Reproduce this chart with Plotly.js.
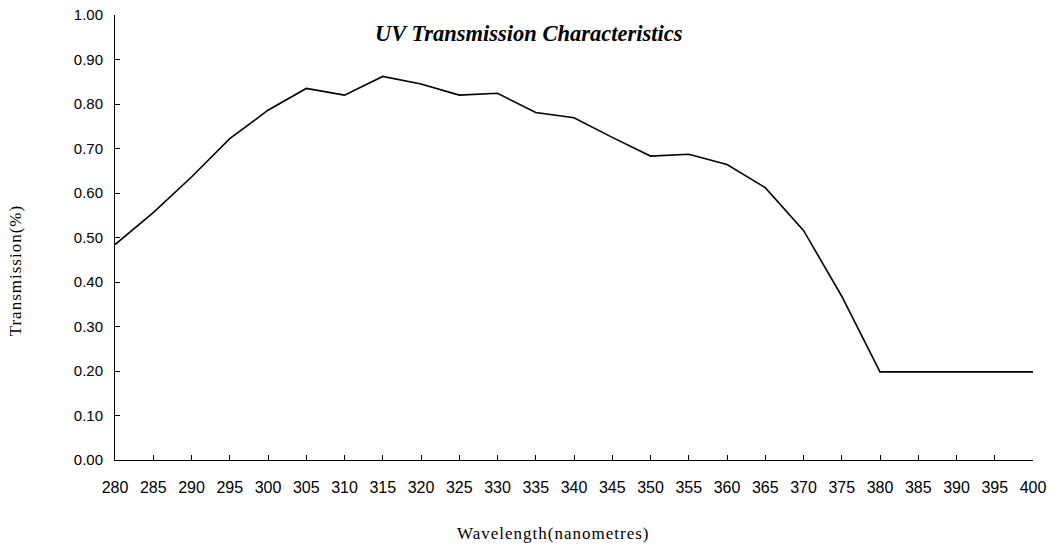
<!DOCTYPE html>
<html>
<head>
<meta charset="utf-8">
<script src="https://cdn.plot.ly/plotly-3.0.1.min.js"></script>
<style>
  html, body { margin: 0; padding: 0; background: #fff; }
  #chart { width: 1049px; height: 544px; }
  .annotation-text { letter-spacing: 1px; }
</style>
</head>
<body>
<div id="chart"></div>
<script>
const wavelengths = [280, 285, 290, 295, 300, 305, 310, 315, 320, 325, 330, 335, 340, 345, 350, 355, 360, 365, 370, 375, 380, 385, 390, 395, 400];
const transmission = [0.484, 0.556, 0.636, 0.722, 0.786, 0.835, 0.820, 0.862, 0.845, 0.820, 0.824, 0.781, 0.769, 0.725, 0.683, 0.687, 0.664, 0.612, 0.516, 0.368, 0.198, 0.198, 0.198, 0.198, 0.198];
const yTickVals = [0, 0.1, 0.2, 0.3, 0.4, 0.5, 0.6, 0.7, 0.8, 0.9, 1.0];
const yTickText = ["0.00", "0.10", "0.20", "0.30", "0.40", "0.50", "0.60", "0.70", "0.80", "0.90", "1.00"];
const titleText = "UV Transmission Characteristics";
const xTitle = "Wavelength(nanometres)";
const yTitle = "Transmission(%)";

const trace = {
  x: wavelengths,
  y: transmission,
  type: 'scatter',
  mode: 'lines',
  line: { color: '#000000', width: 1.6 },
  hoverinfo: 'x+y'
};

const layout = {
  width: 1049,
  height: 544,
  paper_bgcolor: '#ffffff',
  plot_bgcolor: '#ffffff',
  margin: { l: 115, r: 16, t: 15, b: 84, pad: 0 },
  showlegend: false,
  title: {
    text: '<b><i>' + titleText + '</i></b>',
    font: { family: '"Liberation Serif", "Times New Roman", serif', size: 22.5, color: '#000' },
    xref: 'container', yref: 'container',
    x: 0.504, y: 0.94, xanchor: 'center', yanchor: 'middle'
  },
  xaxis: {
    range: [280, 400],
    tickvals: wavelengths,
    ticktext: wavelengths.map(String),
    showgrid: false,
    zeroline: false,
    showline: true,
    linecolor: '#000',
    linewidth: 1,
    ticks: 'inside',
    ticklen: 5,
    tickcolor: '#000',
    tickwidth: 1,
    ticklabelstandoff: 13,
    tickfont: { family: '"Liberation Sans", Arial, sans-serif', size: 16, color: '#000' },
    fixedrange: true
  },
  yaxis: {
    range: [0, 1],
    tickvals: yTickVals,
    ticktext: yTickText,
    showgrid: false,
    zeroline: false,
    showline: true,
    linecolor: '#000',
    linewidth: 1,
    ticks: 'inside',
    ticklen: 5,
    tickcolor: '#000',
    tickwidth: 1,
    ticklabelstandoff: 8,
    tickfont: { family: '"Liberation Sans", Arial, sans-serif', size: 15, color: '#000' },
    fixedrange: true
  },
  annotations: [
    {
      text: xTitle, xref: 'paper', yref: 'paper',
      x: 0.477, y: -0.165, xanchor: 'center', yanchor: 'middle',
      showarrow: false,
      font: { family: '"Liberation Serif", "Times New Roman", serif', size: 17, color: '#000' }
    },
    {
      text: yTitle, xref: 'paper', yref: 'paper',
      x: -0.109, y: 0.426, xanchor: 'center', yanchor: 'middle',
      textangle: -90, showarrow: false,
      font: { family: '"Liberation Serif", "Times New Roman", serif', size: 17, color: '#000' }
    }
  ]
};

Plotly.newPlot('chart', [trace], layout, { displayModeBar: false, staticPlot: true });
</script>
</body>
</html>
